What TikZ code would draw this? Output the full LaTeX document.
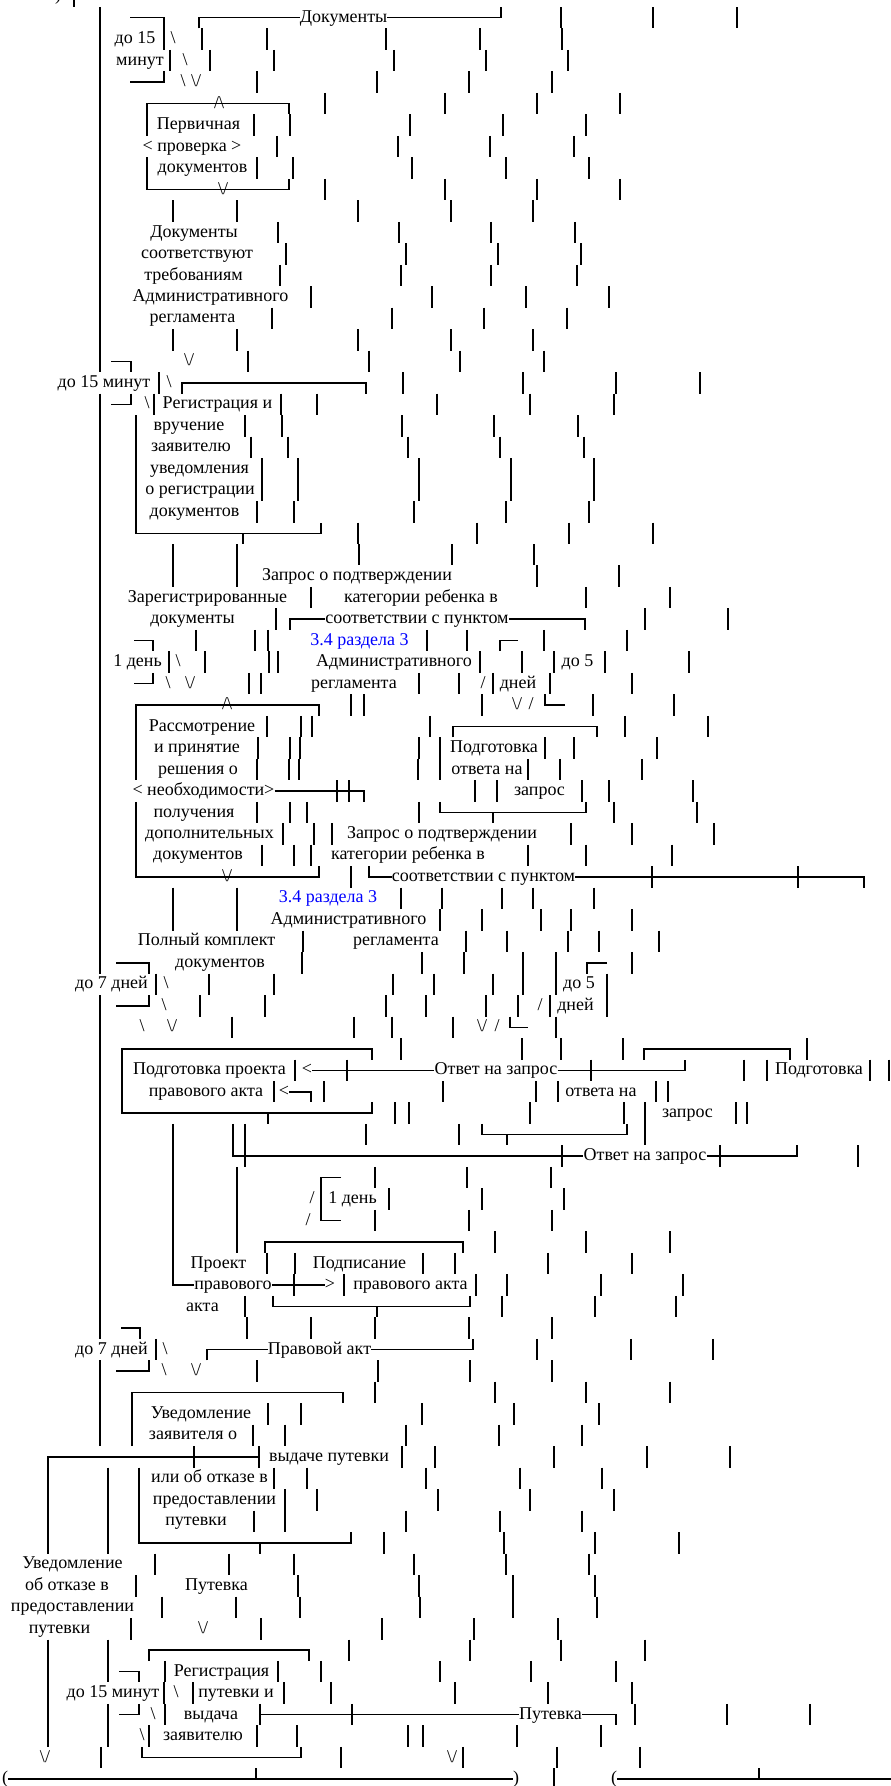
\documentclass[tikz,border=0pt]{standalone}
\usepackage{fontspec}
\setmainfont{Liberation Serif}
\usepackage{tikz}
\definecolor{linkblue}{RGB}{0,0,255}

\begin{document}
\begin{tikzpicture}[
        x=1pt, y=-21.48pt,
        txt/.style={inner sep=0pt, text height=13pt, text depth=4pt, font=\fontsize{18}{21.48}\selectfont},
        bluetxt/.style={txt, text=linkblue},
        boxline/.style={line width=1.5pt}
    ]
    \useasboundingbox (0pt,0pt) rectangle (891pt,-1786pt);
    \begin{scope}[yshift=3.74pt]

        % Single bars, row by row
        \foreach \r/\xs in {0/{74}, 1/{561,653,737}, 2/{164,202,267,386,480,562}, 3/{170,210,274,394,486,568},
            4/{257,377,469,552}, 5/{325,445,537,620}, 6/{147,254,290,410,503,586}, 7/{277,398,490,574},
            8/{147,257,293,412,506,589}, 9/{325,445,537,620}, 10/{173,237,358,451,533}, 11/{278,399,491,575},
            12/{286,406,498,581}, 13/{280,401,491,577}, 14/{311,432,526,609}, 15/{272,392,484,567},
            16/{173,237,358,451,533}, 17/{248,369,460,544}, 18/{159,403,523,616,700}, 19/{154,281,317,437,530,614},
            20/{136,245,282,402,494,578}, 21/{136,251,288,408,500,584}, 22/{136,262,298,419,511,594},
            23/{136,262,298,419,511,594}, 24/{136,257,294,414,506,589}, 25/{358,477,569,653},
            26/{173,237,359,452,534}, 27/{173,237,537,619}, 28/{311,586,670}, 29/{276,645,728},
            30/{196,255,268,427,467,544,627}, 31/{169,205,269,278,480,522,554,605,689},
            32/{249,261,419,459,493,550,632}, 33/{351,364,482,593,674}, 34/{136,267,301,312,430,625,708},
            35/{136,258,290,300,419,440,545,574,657}, 36/{136,257,289,299,418,440,528,560,642},
            37/{337,349,475,497,582,609,693}, 38/{136,257,290,307,419,614,697}, 39/{136,283,314,332,571,632,714},
            40/{136,262,294,311,528,586,672}, 41/{351,652,798}, 42/{173,237,401,442,502,533,594},
            43/{173,237,440,482,541,571,632}, 44/{303,466,507,568,599,659}, 45/{302,422,464,523,556,632},
            46/{156,209,274,393,434,493,523,556,607}, 47/{200,265,386,426,486,518,550,607},
            48/{232,354,392,453,556}, 49/{401,522,561,623,807}, 50/{295,347,591,744,767,870,889},
            51/{274,324,443,536,558,656,668}, 52/{395,409,530,624,645,736,747}, 53/{233,245,366,459,645},
            54/{245,562,720,858}, 55/{237,375,467,551}, 56/{237,389,482,564}, 57/{237,375,469,552},
            58/{237,495,586,670}, 59/{267,295,423,455,548,632}, 60/{294,344,476,507,601,683},
            61/{245,502,595,676}, 62/{247,311,375,469,552}, 63/{156,537,631,713}, 64/{257,378,470,552},
            65/{375,495,586,670}, 66/{268,301,422,514,599}, 67/{253,285,406,499,582},
            68/{194,259,402,435,554,647,730}, 69/{274,307,426,520,602}, 70/{285,317,438,530,614},
            71/{254,285,406,500,582}, 72/{384,504,595,679}, 73/{155,229,294,414,506,589},
            74/{136,298,419,513,595}, 75/{162,236,300,420,513,597}, 76/{131,261,382,474,558},
            77/{349,470,561,645}, 78/{165,278,321,440,531,616}, 79/{164,193,284,331,455,548,632},
            80/{165,260,352,635,727,810}, 81/{149,257,297,408,423,517,601}, 82/{101,341,463,557,640}, 83/{554}}
            \foreach \x in \xs
                \draw[boxline] ({\x},{\r-0.5}) -- ({\x},{\r+0.5});

        % Long left lines
        \draw[boxline] (100,0.5) -- (100,17.5);
        \draw[boxline] (100,18.5) -- (100,45.5);
        \draw[boxline] (100,46.5) -- (100,62.5);
        \draw[boxline] (100,63.5) -- (100,67.5);

        % Small marks
        \foreach \x/\r [count=\i] in {173/2, 185/3, 183/4, 169/18, 147/19, 178/31, 168/32, 166/46,
            164/47, 142/48, 165/63, 164/64, 176/79, 153/80, 142/81}
            \node[txt] (bs\i) at (\x,\r) {\textbackslash};
        \foreach \x/\r [count=\i] in {196/4, 223/9, 189/17, 190/32, 517/33, 227/41, 172/48, 482/48,
            196/64, 203/76, 45/82, 452/82}
            \node[txt] (dn\i) at (\x,\r) {\textbackslash/};
        \foreach \x/\r [count=\i] in {219/5, 227/33}
            \node[txt] (up\i) at (\x,\r) {/\textbackslash};
        \foreach \x/\r [count=\i] in {483/32, 531/33, 540/47, 497/48, 312/56, 308/57}
            \node[txt] (sl\i) at (\x,\r) {/};
        \node[txt] (lt1) at (307,50) {<};
        \node[txt] (lt2) at (284,51) {<};
        \node[txt] (gt1) at (330,60) {>};

        % Incoming documents
        \node[txt] (paren0) at (58,0) {)};
        \node[txt] (docs1) at (343.5,1) {Документы};
        \node[txt] (lim15a) at (135,2) {до 15};
        \node[txt] (lim15b) at (140,3) {минут};
        \draw[boxline] (130,1) -- (164,1) -- (164,1.5);
        \draw[boxline] (164,3.5) -- (164,4) -- (130,4);
        \draw[boxline] (199,1.5) -- (199,1) -- (docs1.west);
        \draw[boxline] (docs1.east) -- (501,1) -- (501,0.5);

        % Primary check
        \node[txt] (chk1) at (198.5,6) {Первичная};
        \node[txt] (chk2) at (192,7) {< проверка >};
        \node[txt] (chk3) at (202.5,8) {документов};
        \draw[boxline] (147,5.5) -- (147,5) -- (289,5) -- (289,5.5);
        \draw[boxline] (147,8.5) -- (147,9) -- (289,9) -- (289,8.5);

        \node[txt] (ok1) at (194,11) {Документы};
        \node[txt] (ok2) at (197,12) {соответствуют};
        \node[txt] (ok3) at (193.5,13) {требованиям};
        \node[txt] (ok4) at (210.5,14) {Административного};
        \node[txt] (ok5) at (192.5,15) {регламента};

        % Registration
        \node[txt] (lim15c) at (104,18) {до 15 минут};
        \draw[boxline] (111,17) -- (131,17) -- (131,17.5);
        \draw[boxline] (131,18.5) -- (131,19) -- (111,19);
        \node[txt] (reg1) at (217.5,19) {Регистрация и};
        \node[txt] (reg2) at (189,20) {вручение};
        \node[txt] (reg3) at (191,21) {заявителю};
        \node[txt] (reg4) at (199.5,22) {уведомления};
        \node[txt] (reg5) at (200,23) {о регистрации};
        \node[txt] (reg6) at (194.5,24) {документов};
        \draw[boxline] (182,18.5) -- (182,18) -- (366,18) -- (366,18.5);
        \draw[boxline] (136,24.5) -- (136,25) -- (321,25) -- (321,24.5);
        \draw[boxline] (243,25) -- (243,25.5);

        % First request
        \node[txt] (reqA1) at (357,27) {Запрос о подтверждении};
        \node[txt] (regd1) at (207.5,28) {Зарегистрированные};
        \node[txt] (reqA2) at (421,28) {категории ребенка в};
        \node[txt] (regd2) at (192.5,29) {документы};
        \node[txt] (reqA3) at (417,29) {соответствии с пунктом};
        \node[bluetxt] (reqA4) at (359.5,30) {3.4 раздела 3};
        \node[txt] (lim1a) at (137.5,31) {1 день};
        \node[txt] (reqA5) at (394,31) {Административного};
        \node[txt] (lim5a) at (577.5,31) {до 5};
        \node[txt] (reqA6) at (354,32) {регламента};
        \node[txt] (lim5b) at (518,32) {дней};
        \draw[boxline] (290,29.5) -- (290,29) -- (reqA3.west);
        \draw[boxline] (reqA3.east) -- (585,29) -- (585,29.5);
        \draw[boxline] (134,30) -- (153,30) -- (153,30.5);
        \draw[boxline] (153,31.5) -- (153,32) -- (134,32);
        \draw[boxline] (518,30) -- (500,30) -- (500,30.5);
        \draw[boxline] (545,32.5) -- (545,33) -- (565,33);

        % Decision on extra documents
        \node[txt] (dec1) at (202,34) {Рассмотрение};
        \node[txt] (dec2) at (197,35) {и принятие};
        \node[txt] (dec3) at (198,36) {решения о};
        \node[txt] (dec4) at (203.5,37) {< необходимости>};
        \node[txt] (dec5) at (194,38) {получения};
        \node[txt] (dec6) at (209.5,39) {дополнительных};
        \node[txt] (dec7) at (198,40) {документов};
        \draw[boxline] (136,33.5) -- (136,33) -- (319,33) -- (319,33.5);
        \draw[boxline] (136,40.5) -- (136,41) -- (319,41) -- (319,40.5);
        \draw[boxline] (dec4.east) -- (364,37) -- (364,37.5);

        % First answer
        \node[txt] (ansA1) at (494,35) {Подготовка};
        \node[txt] (ansA2) at (487,36) {ответа на};
        \node[txt] (ansA3) at (539.5,37) {запрос};
        \draw[boxline] (453,34.5) -- (453,34) -- (597,34) -- (597,34.5);
        \draw[boxline] (440,37.5) -- (440,38) -- (586,38) -- (586,37.5);
        \draw[boxline] (493,38) -- (493,38.5);

        % Second request
        \node[txt] (reqB1) at (442,39) {Запрос о подтверждении};
        \node[txt] (reqB2) at (408,40) {категории ребенка в};
        \node[txt] (reqB3) at (483.5,41) {соответствии с пунктом};
        \node[bluetxt] (reqB4) at (328,42) {3.4 раздела 3};
        \node[txt] (reqB5) at (348.5,43) {Административного};
        \node[txt] (reqB6) at (396,44) {регламента};
        \draw[boxline] (369,40.5) -- (369,41) -- (reqB3.west);
        \draw[boxline] (reqB3.east) -- (864,41) -- (864,41.5);

        \node[txt] (full1) at (206.5,44) {Полный комплект};
        \node[txt] (full2) at (220,45) {документов};
        \node[txt] (lim7a) at (111.5,46) {до 7 дней};
        \node[txt] (lim5c) at (579,46) {до 5};
        \node[txt] (lim5d) at (575.5,47) {дней};
        \draw[boxline] (116,45) -- (149,45) -- (149,45.5);
        \draw[boxline] (149,46.5) -- (149,47) -- (116,47);
        \draw[boxline] (607,45) -- (587,45) -- (587,45.5);
        \draw[boxline] (510,47.5) -- (510,48) -- (528,48);

        % Draft of the legal act
        \node[txt] (prep1) at (209.5,50) {Подготовка проекта};
        \node[txt] (prep2) at (206,51) {правового акта};
        \node[txt] (respA) at (496,50) {Ответ на запрос};
        \draw[boxline] (122,49.5) -- (122,49) -- (372,49) -- (372,49.5);
        \draw[boxline] (122,49.5) -- (122,52) -- (372,52) -- (372,51.5);
        \draw[boxline] (268,52) -- (268,52.5);
        \draw[boxline] (lt1.east) -- (respA.west);
        \draw[boxline] (respA.east) -- (685,50) -- (685,49.5);
        \draw[boxline] (lt2.east) -- (311,51) -- (311,51.5);

        % Second answer
        \node[txt] (ansB1) at (819,50) {Подготовка};
        \node[txt] (ansB2) at (601,51) {ответа на};
        \node[txt] (ansB3) at (687.5,52) {запрос};
        \node[txt] (respB) at (645,54) {Ответ на запрос};
        \draw[boxline] (644,49.5) -- (644,49) -- (790,49) -- (790,49.5);
        \draw[boxline] (482,52.5) -- (482,53) -- (627,53) -- (627,52.5);
        \draw[boxline] (507,53) -- (507,53.5);
        \draw[boxline] (233,53.5) -- (233,54) -- (respB.west);
        \draw[boxline] (respB.east) -- (797,54) -- (797,53.5);

        % Signing
        \node[txt] (lim1b) at (352.5,56) {1 день};
        \draw[boxline] (341,55) -- (321,55) -- (321,57) -- (341,57);
        \node[txt] (proj1) at (218.5,59) {Проект};
        \node[txt] (proj2) at (233,60) {правового};
        \node[txt] (proj3) at (202.5,61) {акта};
        \node[txt] (sign1) at (359.5,59) {Подписание};
        \node[txt] (sign2) at (410.5,60) {правового акта};
        \draw[boxline] (265,58.5) -- (265,58) -- (463,58) -- (463,58.5);
        \draw[boxline] (273,60.5) -- (273,61) -- (470,61) -- (470,60.5);
        \draw[boxline] (377,61) -- (377,61.5);
        \draw[boxline] (173,52.5) -- (173,60) -- (proj2.west);
        \draw[boxline] (proj2.east) -- (gt1.west);

        % Legal act
        \node[txt] (lim7b) at (111.5,63) {до 7 дней};
        \node[txt] (act) at (319.5,63) {Правовой акт};
        \draw[boxline] (121,62) -- (140,62) -- (140,62.5);
        \draw[boxline] (149,63.5) -- (149,64) -- (116,64);
        \draw[boxline] (207,63.5) -- (207,63) -- (act.west);
        \draw[boxline] (act.east) -- (473,63) -- (473,62.5);

        % Notice to the applicant
        \node[txt] (note1) at (201,66) {Уведомление};
        \node[txt] (note2) at (193,67) {заявителя о};
        \node[txt] (note3) at (329,68) {выдаче путевки};
        \node[txt] (note4) at (209.5,69) {или об отказе в};
        \node[txt] (note5) at (214.5,70) {предоставлении};
        \node[txt] (note6) at (196,71) {путевки};
        \draw[boxline] (132,67.5) -- (132,65) -- (343,65) -- (343,65.5);
        \draw[boxline] (48,68.5) -- (48,68) -- (259,68);
        \draw[boxline] (139,68.5) -- (139,72) -- (351,72) -- (351,71.5);
        \draw[boxline] (260,72) -- (260,72.5);
        \draw[boxline] (48,68.5) -- (48,72.5);
        \draw[boxline] (48,76.5) -- (48,81.5);
        \draw[boxline] (108,68.5) -- (108,72.5);
        \draw[boxline] (108,76.5) -- (108,78.5);
        \draw[boxline] (108,79.5) -- (108,81.5);

        \node[txt] (deny1) at (72.5,73) {Уведомление};
        \node[txt] (deny2) at (67,74) {об отказе в};
        \node[txt] (deny3) at (72.5,75) {предоставлении};
        \node[txt] (deny4) at (59.5,76) {путевки};
        \node[txt] (voucherA) at (216.5,74) {Путевка};

        % Issue of the voucher
        \node[txt] (give1) at (221.5,78) {Регистрация};
        \node[txt] (give2) at (236,79) {путевки и};
        \node[txt] (give3) at (211,80) {выдача};
        \node[txt] (give4) at (203,81) {заявителю};
        \node[txt] (lim15d) at (113,79) {до 15 минут};
        \node[txt] (voucherB) at (550.5,80) {Путевка};
        \draw[boxline] (149,77.5) -- (149,77) -- (309,77) -- (309,77.5);
        \draw[boxline] (142,81.5) -- (142,82) -- (301,82) -- (301,81.5);
        \draw[boxline] (119,78) -- (139,78) -- (139,78.5);
        \draw[boxline] (139,79.5) -- (139,80) -- (119,80);
        \draw[boxline] (260,80) -- (voucherB.west);
        \draw[boxline] (voucherB.east) -- (616,80) -- (616,80.5);

        % Bottom brackets
        \node[txt] (lpA) at (5,83) {(};
        \node[txt] (rpA) at (516,83) {)};
        \node[txt] (lpB) at (614,83) {(};
        \draw[boxline] (lpA.east) -- (rpA.west);
        \draw[boxline] (256,82.5) -- (256,83);
        \draw[boxline] (lpB.east) -- (895,83);
        \draw[boxline] (759,82.5) -- (759,83);
    \end{scope}
\end{tikzpicture}
\end{document}
